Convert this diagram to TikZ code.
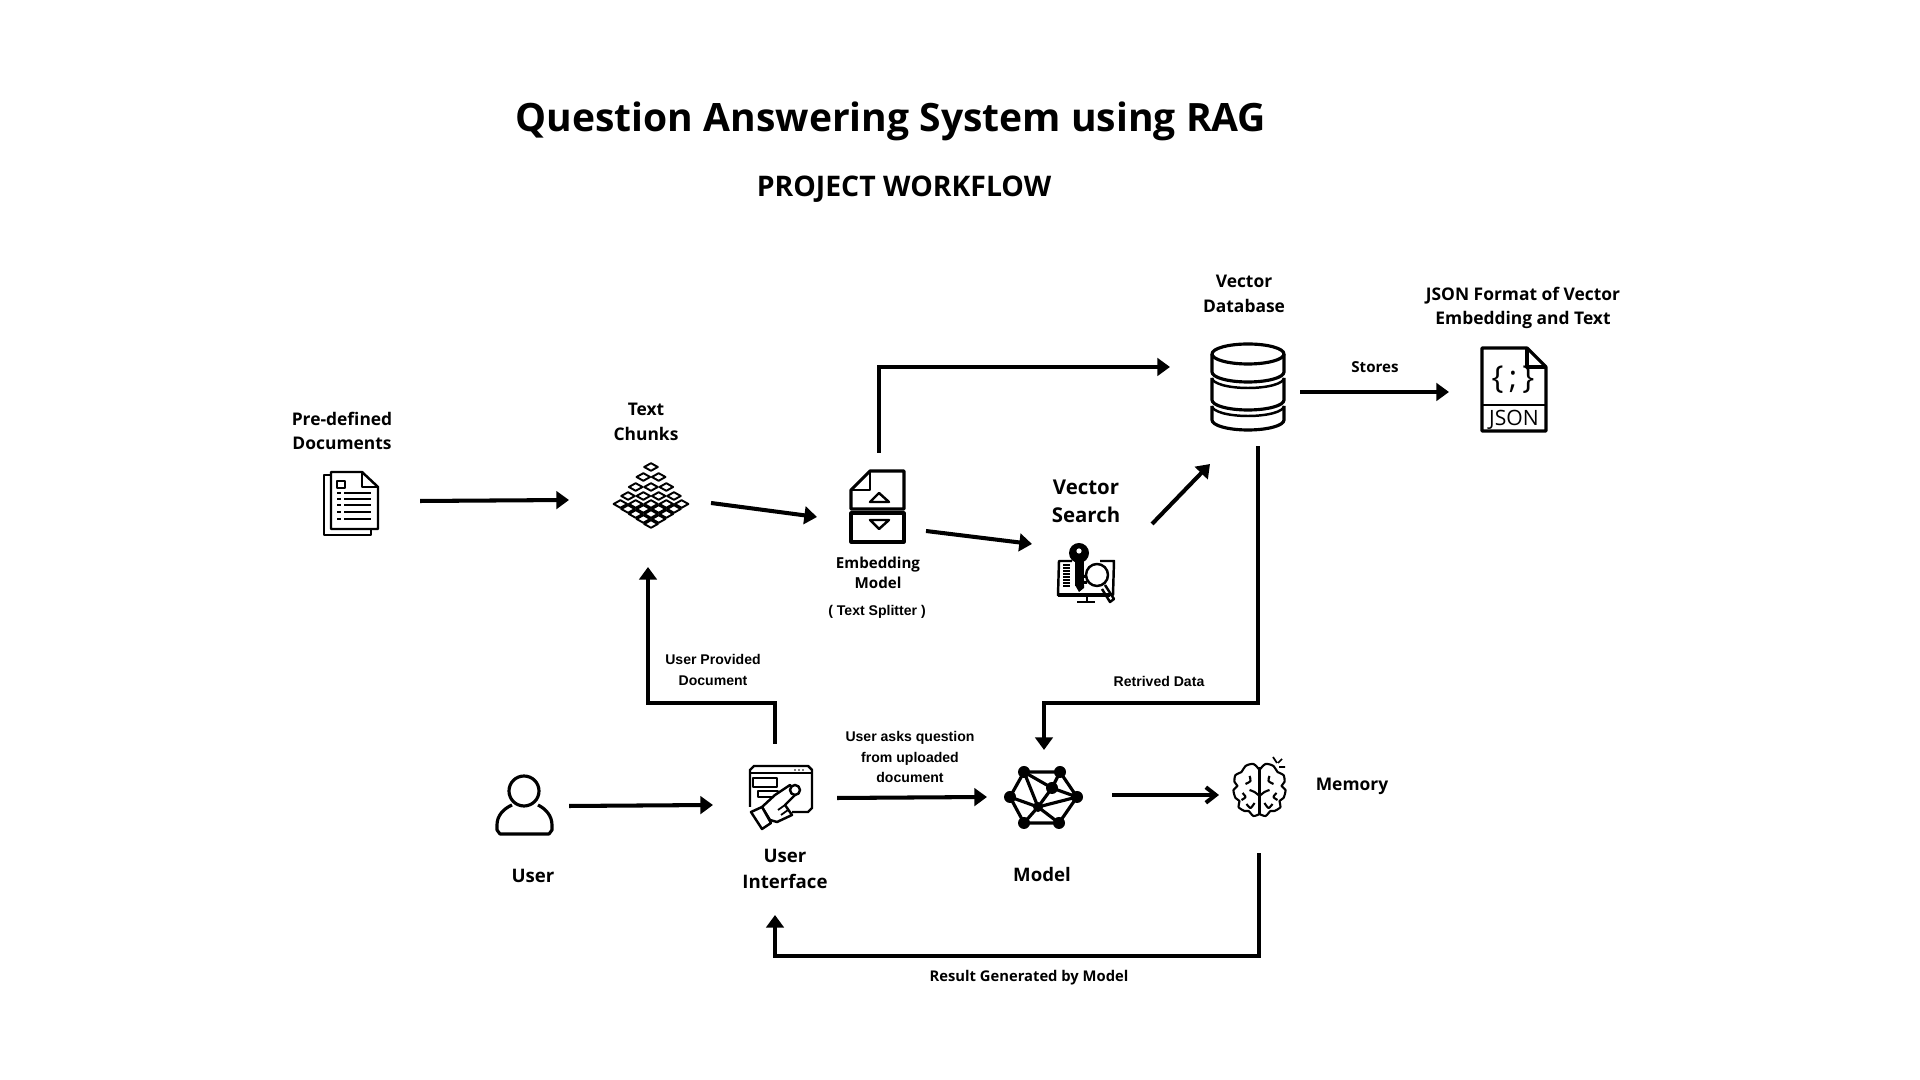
\documentclass[tikz,border=0pt]{standalone}
\usepackage{fontspec}
\setmainfont{Open Sans}
\newfontfamily\smallfont{Liberation Sans}
\usetikzlibrary{arrows.meta, positioning, calc}

\tikzset{
    iconbox/.style={rectangle, inner sep=0pt, outer sep=0pt},
    icon/.style={line width=0.7pt, line join=round},
    iconfine/.style={line width=0.5pt, line join=round},
    iconbold/.style={line width=0.9pt, line join=round},
    flow/.style={line width=1.15pt, -{Triangle[length=3.6pt,width=5pt]}},
    flowopen/.style={line width=1.15pt, -{Straight Barb[length=2.8pt,width=4.4pt]}},
    bigtitle/.style={font=\fontsize{11.1}{14}\selectfont\bfseries},
    subtitle/.style={font=\fontsize{8.07}{10}\selectfont\bfseries},
    midlabel/.style={align=center, inner sep=0pt, font=\fontsize{4.95}{6.95}\selectfont\bfseries},
    largelabel/.style={align=center, inner sep=0pt, font=\fontsize{5.8}{8}\selectfont\bfseries},
    uilabel/.style={align=center, inner sep=0pt, font=\fontsize{5.3}{7.3}\selectfont\bfseries},
    tinylabel/.style={align=center, inner sep=0pt, font=\fontsize{4.3}{5.7}\selectfont\bfseries},
    resultstyle/.style={inner sep=0pt, font=\fontsize{4.2}{5.7}\selectfont\bfseries},
    armlabel/.style={align=center, inner sep=0pt, font=\smallfont\fontsize{4}{5.7}\selectfont\bfseries},
}

\begin{document}
\begin{tikzpicture}[x=0.01cm, y=-0.01cm]
    \useasboundingbox (0,0) rectangle (1920,1080);

    % Titles
    \node (title) [bigtitle] at (891,121) {Question Answering System using RAG};
    \node (workflow) [subtitle] at (904,189) {PROJECT WORKFLOW};

    % Icon boxes
    \node (docs) [iconbox, minimum width=0.55cm, minimum height=0.65cm] at (350.5,503.5) {};
    \node (chunks) [iconbox, minimum width=0.78cm, minimum height=0.65cm] at (651,495.5) {};
    \node (embed) [iconbox, minimum width=0.53cm, minimum height=0.71cm] at (877.5,506.5) {};
    \node (vsearch) [iconbox, minimum width=0.58cm, minimum height=0.6cm] at (1086,573) {};
    \node (vdb) [iconbox, minimum width=0.73cm, minimum height=0.88cm] at (1247.5,387) {};
    \node (json) [iconbox, minimum width=0.64cm, minimum height=0.83cm] at (1514,389.5) {};
    \node (user) [iconbox, minimum width=0.56cm, minimum height=0.58cm] at (524,805) {};
    \node (ui) [iconbox, minimum width=0.63cm, minimum height=0.64cm] at (780.5,797) {};
    \node (model) [iconbox, minimum width=0.73cm, minimum height=0.65cm] at (1042.5,797.5) {};
    \node (memory) [iconbox, minimum width=0.54cm, minimum height=0.6cm] at (1259,787) {};

    % Labels
    \node (docslabel) [midlabel] at (342,431) {Pre-defined\\Documents};
    \node (chunkslabel) [midlabel] at (646,422) {Text\\Chunks};
    \node (embedlabel) [tinylabel] at (878,573) {Embedding\\Model};
    \node (splitterlabel) [armlabel] at (877,612) {( Text Splitter )};
    \node (vsearchlabel) [largelabel] at (1086,501) {Vector\\Search};
    \node (vdblabel) [midlabel] at (1244,294) {Vector\\Database};
    \node (jsonlabel) [midlabel] at (1523,308) {JSON Format of Vector\\Embedding and Text};
    \node (storeslabel) [tinylabel] at (1375,367) {Stores};
    \node (providedlabel) [armlabel] at (713,670) {User Provided\\Document};
    \node (retrivedlabel) [armlabel] at (1159,681) {Retrived Data};
    \node (askslabel) [armlabel] at (910,757) {User asks question\\from uploaded\\document};
    \node (memorylabel) [midlabel] at (1352,786) {Memory};
    \node (userlabel) [uilabel] at (533,876) {User};
    \node (uilabeltext) [uilabel] at (785,869) {User\\Interface};
    \node (modellabel) [uilabel] at (1042,875) {Model};
    \node (resultlabel) [resultstyle] at (1029,978) {Result Generated by Model};

    % Documents icon
    \draw[icon] (331,472) -- (362,472) -- (378,487) -- (378,529) -- (331,529) -- cycle;
    \draw[icon] (362,472) -- (362,487) -- (378,487);
    \draw[icon] (331,475) -- (324,475) -- (324,535) -- (371,535) -- (371,529);
    \draw[icon] (337,481) rectangle (345,488);
    \foreach \ly in {493,499,505,512,519} {
        \draw[icon] (337,\ly) -- (341,\ly);
        \draw[icon] (344,\ly) -- (371,\ly);
    }

    % Chunks icon
    \foreach \rcount/\ry in {1/467, 2/477, 3/487, 4/496, 5/504, 4/509, 3/514, 2/519, 1/524} {
        \foreach \ci in {1,...,\rcount} {
            \draw[iconfine, line width=0.55pt] ({651+15.3*(\ci-(\rcount+1)/2)-6.8},\ry) -- ++(6.8,-3.8) -- ++(6.8,3.8) -- ++(-6.8,3.8) -- cycle;
        }
    }

    % Embedding icon
    \draw[iconbold] (870,471) -- (904,471) -- (904,509) -- (851,509) -- (851,490) -- cycle;
    \draw[icon] (870,471) -- (870,490) -- (851,490);
    \draw[icon] (870,502) -- (879,493) -- (889,502) -- cycle;
    \draw[iconbold] (851,513) rectangle (904,542);
    \draw[icon] (870,520) -- (889,520) -- (879,529) -- cycle;

    % Vector search icon
    \draw[icon] (1072,561) -- (1059,561) -- (1058,595) -- (1113,595) -- (1114,561) -- (1100,561);
    \fill (1058,593) rectangle (1110,597);
    \draw[icon] (1087,597) -- (1087,602) (1077,602) -- (1095,602);
    \foreach \ly in {565,568,571,574,577,580,583,586} {
        \draw[iconfine] (1063,\ly) -- (1070,\ly);
    }
    \fill (1079,553) circle[radius=10];
    \fill (1075,556) rectangle (1084,586);
    \fill (1075,585) -- (1084,585) -- (1084,588) -- (1079,592) -- cycle;
    \fill (1084,575) rectangle (1087,578) (1084,581) rectangle (1087,584);
    \fill[white] (1079,551) circle[radius=2.6];
    \draw[icon, fill=white] (1097,575) circle[radius=11];
    \draw[icon] (1105,585) -- (1114,599) -- (1110,602) -- (1102,589);

    % Vector database icon
    \draw[iconbold] (1248,354) ellipse[x radius=36, y radius=10];
    \foreach \ty/\by in {354/372, 378/400, 406/420} {
        \draw[iconbold] (1212,\ty) -- (1212,\by) arc[start angle=180, end angle=0, x radius=36, y radius=10] -- (1284,\ty);
    }
    \foreach \ay in {378,406} {
        \draw[icon] (1212,\ay) arc[start angle=180, end angle=0, x radius=36, y radius=10];
    }

    % JSON icon
    \draw[iconbold] (1482,348) -- (1527,348) -- (1546,367) -- (1546,431) -- (1482,431) -- cycle;
    \draw[iconbold] (1527,348) -- (1527,367) -- (1546,367);
    \draw[icon] (1482,405) -- (1546,405);
    \node (jsonbraces) [inner sep=0pt, font=\fontsize{9}{10}\selectfont] at (1513,380) {\{\,;\,\}};
    \node (jsontext) [inner sep=0pt, font=\fontsize{6}{7}\selectfont] at (1514,420) {JSON};

    % User icon
    \draw[iconbold] (524,791) circle[radius=15];
    \draw[iconbold] (512,805) .. controls (503,809) and (497,816) .. (497,825) -- (497,830) -- (500,834) -- (549,834) -- (552,830) -- (552,825) .. controls (552,816) and (546,809) .. (538,805);

    % User interface icon
    \draw[icon] (750,807) -- (750,770) -- (754,766) -- (808,766) -- (812,770) -- (812,808) -- (808,812) -- (792,812);
    \draw[icon] (750,773) -- (812,773);
    \foreach \dx in {795,799,803} {
        \fill (\dx,770) circle[radius=0.9];
    }
    \draw[iconfine] (753,778) rectangle (777,787);
    \draw[iconfine] (758,791) rectangle (778,797);
    \draw[icon, fill=white] (762,807) -- (775,795) -- (790,785) -- (797,793) -- (785,805) -- (792,815) -- (777,822) -- (770,820) -- cycle;
    \draw[iconfine] (785,805) -- (778,810) (788,810) -- (781,815);
    \draw[icon, fill=white] (795,790) circle[radius=5];
    \draw[icon, fill=white] (751,812) -- (762,807) -- (771,823) -- (762,829) -- cycle;

    % Model icon
    \foreach \ma/\mb/\mr in {1024/772/6, 1060/772/6, 1077/797/6, 1059/823/6, 1024/823/6, 1010/797/6, 1052/788/6, 1038/807/5} {
        \fill (\ma,\mb) circle[radius=\mr];
    }
    \draw[iconbold] (1024,772) -- (1060,772) -- (1077,797) -- (1059,823) -- (1024,823) -- (1010,797) -- cycle;
    \draw[iconbold] (1024,772) -- (1038,807) (1010,797) -- (1038,807) (1024,823) -- (1038,807) (1059,823) -- (1038,807) (1077,797) -- (1038,807);
    \draw[iconbold] (1060,772) -- (1052,788) (1077,797) -- (1052,788) (1024,772) -- (1052,788) (1038,807) -- (1052,788);

    % Memory icon
    \foreach \side in {1,-1} {
        \begin{scope}[shift={(1259.5,0)}, xscale=\side]
            \draw[icon, line width=0.6pt] plot[smooth] coordinates {(0,770) (6,764) (14,766) (18,772) (24,775) (25,782) (22,786) (26,790) (24,798) (20,801) (21,807) (15,811) (11,811) (6,816) (0,814)};
            \draw[icon, line width=0.6pt] plot[smooth] coordinates {(0,796) (5,792) (10,790)};
            \draw[icon, line width=0.6pt] plot[smooth] coordinates {(10,776) (9,781) (14,784)};
            \draw[icon, line width=0.6pt] plot[smooth] coordinates {(17,793) (14,797) (18,800)};
            \draw[icon, line width=0.6pt] plot[smooth] coordinates {(5,803) (9,808) (13,804)};
        \end{scope}
    }
    \draw[icon, line width=0.6pt] (1259.5,767) -- (1259.5,815);
    \draw[iconfine] (1273,757) -- (1277,763) (1282,759) -- (1278,763) (1285,767) -- (1279,767);

    % Upper row connectors
    \draw[flow] ([shift={(42,-2.5)}]docs.east) -- ([shift={(-43,4.5)}]chunks.west);
    \draw[flow] ([shift={(21,7.5)}]chunks.east) -- ([shift={(-34,10.5)}]embed.west);
    \draw[flow] ([shift={(1.5,-18)}]embed.north) |- ([shift={(-41,-20)}]vdb.west);
    \draw[flow] ([shift={(22,24.5)}]embed.east) -- ([shift={(-25,-29)}]vsearch.west);
    \draw[flow] ([shift={(37,-49)}]vsearch.east) -- ([shift={(-37.5,33)}]vdb.south);
    \draw[flow] ([shift={(16,5)}]vdb.east) -- ([shift={(-33,2.5)}]json.west);

    % Lower row connectors
    \draw[flow] ([shift={(17,1)}]user.east) -- ([shift={(-36,8)}]ui.west);
    \draw[flow] ([shift={(25,1)}]ui.east) -- ([shift={(-19,-0.5)}]model.west);
    \draw[flowopen] ([shift={(33,-2.5)}]model.east) -- ([shift={(-13,8)}]memory.west);

    % Long way round connectors
    \draw[flow] ([shift={(-5.5,-21)}]ui.north) -- ++(0,-41) -| ([shift={(-3,39)}]chunks.south);
    \draw[flow] ([shift={(10.5,15)}]vdb.south) -- ++(0,257) -| ([shift={(1.5,-15)}]model.north);
    \draw[flow] ([shift={(0,36)}]memory.south) -- ++(0,103) -| ([shift={(-5.5,86)}]ui.south);
\end{tikzpicture}
\end{document}
